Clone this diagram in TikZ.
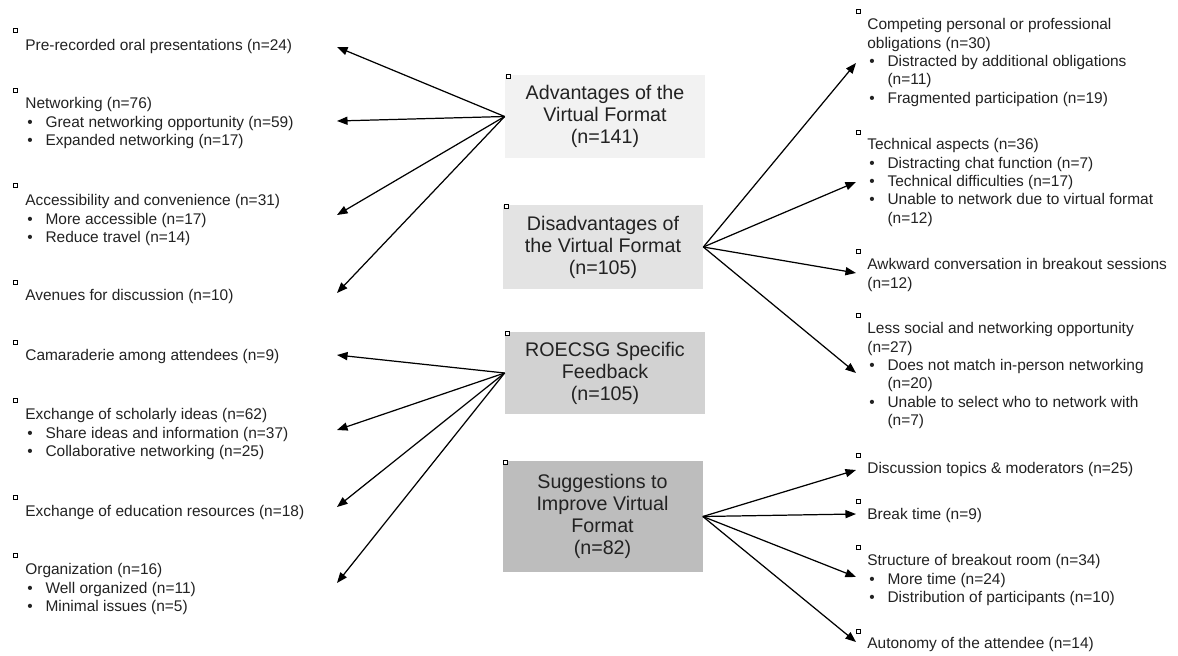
\documentclass[tikz,border=0pt]{standalone}
\usepackage{fontspec}
\setmainfont{Liberation Sans}
\usetikzlibrary{arrows.meta}
\definecolor{greyA}{HTML}{F2F2F2}
\definecolor{greyB}{HTML}{E3E3E3}
\definecolor{greyC}{HTML}{D2D2D2}
\definecolor{greyD}{HTML}{BDBDBD}
\definecolor{ink}{HTML}{222222}
\newcommand{\kotak}[1]{\foreach \x/\y in {#1} \draw[fill=white,line width=0.35pt] (\x,\y) +(-2,-2) rectangle +(2,2);}
\newcommand{\butir}[1]{\makebox[11.5pt][l]{\hspace{1.2pt}\textbullet}#1}
\newcommand{\lanjut}[1]{\hspace*{11.5pt}#1}

\begin{document}
\begin{tikzpicture}[x=0.02cm,y=-0.02cm,
    theme/.style={draw=none,minimum width=200*0.02cm,align=center,text=ink,
      font=\fontsize{11.2}{12.5}\selectfont,inner sep=0pt},
    item/.style={anchor=north west,align=left,inner sep=0pt,text=ink,
      font=\fontsize{8.8}{10.5}\selectfont},
    arr/.style={-{Triangle[length=6pt,width=4.6pt]},line width=0.7pt}]
  \useasboundingbox (0,0) rectangle (1178,656);

  % central themes
  \node[theme,fill=greyA,minimum height=83*0.02cm] (adv) at (605,116.5)
    {Advantages of the\\Virtual Format\\(n=141)};
  \node[theme,fill=greyB,minimum height=84*0.02cm] (dis) at (603,247)
    {Disadvantages of\\the Virtual Format\\(n=105)};
  \node[theme,fill=greyC,minimum height=82*0.02cm] (roe) at (605,373)
    {ROECSG Specific\\Feedback\\(n=105)};
  \node[theme,fill=greyD,minimum height=111*0.02cm] (sug) at (602.5,516.5)
    {Suggestions to\\Improve Virtual\\Format\\(n=82)};

  % left column
  \node[item] (pre) at (25,39) {Pre-recorded oral presentations (n=24)};
  \node[item] (net) at (25,97) {Networking (n=76)\\
    \butir{Great networking opportunity (n=59)}\\
    \butir{Expanded networking (n=17)}};
  \node[item] (acc) at (25,194) {Accessibility and convenience (n=31)\\
    \butir{More accessible (n=17)}\\
    \butir{Reduce travel (n=14)}};
  \node[item] (ave) at (25,289) {Avenues for discussion (n=10)};
  \node[item] (cam) at (25,349) {Camaraderie among attendees (n=9)};
  \node[item] (sch) at (25,408) {Exchange of scholarly ideas (n=62)\\
    \butir{Share ideas and information (n=37)}\\
    \butir{Collaborative networking (n=25)}};
  \node[item] (edu) at (25,505) {Exchange of education resources (n=18)};
  \node[item] (org) at (25,563) {Organization (n=16)\\
    \butir{Well organized (n=11)}\\
    \butir{Minimal issues (n=5)}};

  % right column
  \node[item] (comp) at (867,18) {Competing personal or professional\\
    obligations (n=30)\\
    \butir{Distracted by additional obligations}\\
    \lanjut{(n=11)}\\
    \butir{Fragmented participation (n=19)}};
  \node[item] (tech) at (867,138) {Technical aspects (n=36)\\
    \butir{Distracting chat function (n=7)}\\
    \butir{Technical difficulties (n=17)}\\
    \butir{Unable to network due to virtual format}\\
    \lanjut{(n=12)}};
  \node[item] (awk) at (867,258) {Awkward conversation in breakout sessions\\(n=12)};
  \node[item] (soc) at (867,322) {Less social and networking opportunity\\
    (n=27)\\
    \butir{Does not match in-person networking}\\
    \lanjut{(n=20)}\\
    \butir{Unable to select who to network with}\\
    \lanjut{(n=7)}};
  \node[item] (topic) at (867,462) {Discussion topics \& moderators (n=25)};
  \node[item] (brk) at (867,508) {Break time (n=9)};
  \node[item] (struc) at (867,554) {Structure of breakout room (n=34)\\
    \butir{More time (n=24)}\\
    \butir{Distribution of participants (n=10)}};
  \node[item] (auto) at (867,637) {Autonomy of the attendee (n=14)};

  % arrow ends
  \coordinate (preT) at (337,47);
  \coordinate (netT) at (337,121);
  \coordinate (accT) at (337,215);
  \coordinate (aveT) at (337,293);
  \coordinate (camT) at (337,355);
  \coordinate (schT) at (337,430);
  \coordinate (eduT) at (337,507);
  \coordinate (orgT) at (337,583);
  \coordinate (compT) at (856,63);
  \coordinate (techT) at (856,182);
  \coordinate (awkT) at (856,273);
  \coordinate (socT) at (856,373);
  \coordinate (topicT) at (856,470);
  \coordinate (brkT) at (856,514);
  \coordinate (strucT) at (856,577);
  \coordinate (autoT) at (856,642);

  \foreach \t in {pre,net,acc,ave} \draw[arr] (adv.west) -- (\t T);
  \foreach \t in {cam,sch,edu,org} \draw[arr] (roe.west) -- (\t T);
  \foreach \t in {comp,tech,awk,soc} \draw[arr] (dis.east) -- (\t T);
  \foreach \t in {topic,brk,struc,auto} \draw[arr] (sug.east) -- (\t T);

  % small markers
  \kotak{15/30,15/90,15/185,15/282,15/342,15/400,15/497,15/555}
  \kotak{858/11,858/132,858/251,858/315,858/455,858/501,858/547,858/631}
  \kotak{508/76,506/206,507/333,505/462}
\end{tikzpicture}
\end{document}
